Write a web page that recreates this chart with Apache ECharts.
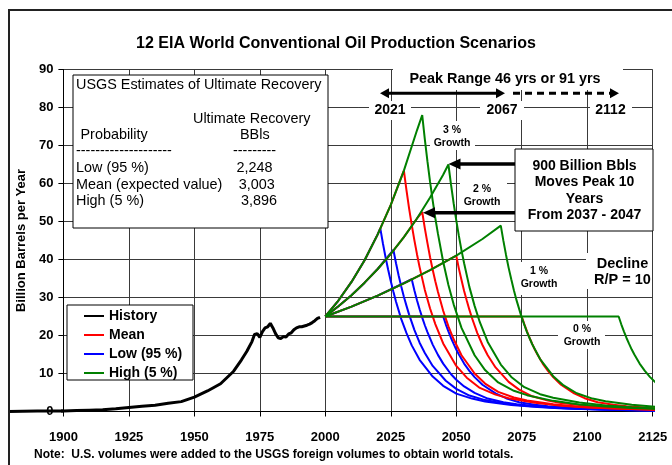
<!DOCTYPE html>
<html><head><meta charset="utf-8">
<script src="https://cdn.jsdelivr.net/npm/echarts@6/dist/echarts.min.js"></script>
<style>html,body{margin:0;padding:0;background:#fff}#c{width:672px;height:465px}</style>
</head><body><div id="c"></div>
<script>
// ---------- DATA ----------
const xTicks = [1900, 1925, 1950, 1975, 2000, 2025, 2050, 2075, 2100, 2125];
const yTicks = [0, 10, 20, 30, 40, 50, 60, 70, 80, 90];

const history = [[1879,0],[1890,0.1],[1900,0.15],[1905,0.25],[1910,0.35],[1915,0.45],[1920,0.7],[1925,1.05],[1930,1.4],[1935,1.65],[1940,2.15],[1945,2.6],[1950,3.8],[1955,5.4],[1960,7.3],[1965,10.6],[1968,13.6],[1970,15.8],[1972,18.4],[1973,20.3],[1974,20.5],[1975,19.5],[1976,21.0],[1977,22.0],[1978,22.3],[1979,23.2],[1980,22.0],[1981,20.5],[1982,19.4],[1983,19.2],[1984,19.7],[1985,19.6],[1986,20.4],[1987,20.7],[1988,21.5],[1989,22.0],[1990,22.3],[1991,22.3],[1992,22.5],[1993,22.7],[1994,23.0],[1995,23.4],[1996,23.9],[1997,24.5],[1998,24.8]];

// Low (95 %) URR 2,248
const low0 = [[2000,25],[2045,25],[2046,22.95],[2047,21.1],[2048,19.35],[2049,17.8],[2050,16.3],[2051,15.0],[2053,12.6],[2055,10.7],[2057,9.05],[2060,7.05],[2065,4.75],[2069,3.5],[2074,2.45],[2080,1.75],[2085,1.38],[2095,0.9],[2105,0.6],[2115,0.43],[2125,0.3],[2145,0.15]];
const low1 = [[2000,25],[2010,27.6],[2020,30.5],[2033,34.8],[2034,31.9],[2035,29.3],[2036,26.9],[2037,24.7],[2038,22.7],[2039,20.9],[2041,17.6],[2043,14.9],[2045,12.6],[2048,9.8],[2050,8.35],[2053,6.6],[2057,4.9],[2062,3.4],[2068,2.45],[2073,1.9],[2083,1.25],[2093,0.84],[2103,0.6],[2113,0.42],[2133,0.21]];
const low2 = [[2000,25],[2005,27.7],[2010,30.6],[2015,33.9],[2020,37.5],[2026,42.5],[2027,39.0],[2028,35.8],[2029,32.9],[2030,30.2],[2031,27.8],[2032,25.5],[2034,21.5],[2036,18.1],[2038,15.4],[2041,12.0],[2046,8.1],[2050,5.95],[2055,4.2],[2061,3.0],[2066,2.35],[2076,1.53],[2086,1.02],[2096,0.72],[2106,0.51],[2126,0.26],[2146,0.13]];
const low3 = [[2000,25],[2005,29.2],[2010,34.1],[2015,39.8],[2020,46.6],[2021,48.2],[2022,44.2],[2023,40.6],[2024,37.3],[2025,34.3],[2026,31.5],[2027,28.9],[2029,24.3],[2031,20.6],[2033,17.4],[2036,13.6],[2041,9.2],[2045,6.75],[2050,4.7],[2056,3.4],[2061,2.65],[2071,1.74],[2081,1.16],[2091,0.82],[2101,0.58],[2121,0.29],[2141,0.15]];

// Mean URR 3,003
const mean0 = [[2000,25],[2075,25],[2076,22.95],[2077,21.1],[2078,19.35],[2079,17.8],[2080,16.3],[2081,15.0],[2083,12.6],[2085,10.7],[2087,9.05],[2090,7.05],[2095,4.75],[2099,3.5],[2104,2.45],[2110,1.75],[2115,1.38],[2125,0.9],[2135,0.6],[2145,0.43]];
const mean1 = [[2000,25],[2010,27.6],[2020,30.5],[2030,33.7],[2040,37.2],[2050,41.0],[2051,37.6],[2052,34.6],[2053,31.7],[2054,29.2],[2055,26.8],[2056,24.6],[2058,20.7],[2060,17.5],[2062,14.8],[2065,11.6],[2070,7.8],[2074,5.75],[2079,4.0],[2085,2.87],[2090,2.26],[2100,1.48],[2110,0.98],[2120,0.7],[2130,0.49],[2150,0.25]];
const mean2 = [[2000,25],[2005,27.7],[2010,30.6],[2015,33.9],[2020,37.5],[2025,41.5],[2030,45.9],[2035,50.8],[2037,52.5],[2038,48.2],[2039,44.3],[2040,40.6],[2041,37.3],[2042,34.3],[2043,31.5],[2045,26.5],[2047,22.4],[2049,19.0],[2052,14.8],[2057,10.0],[2061,7.35],[2066,5.15],[2072,3.7],[2077,2.9],[2087,1.9],[2097,1.26],[2107,0.9],[2117,0.63],[2137,0.32]];
const mean3 = [[2000,25],[2005,29.2],[2010,34.1],[2015,39.8],[2020,46.6],[2025,54.4],[2030,63.4],[2031,58.2],[2032,53.4],[2033,49.1],[2034,45.1],[2035,41.4],[2036,38.0],[2038,32.0],[2040,27.1],[2042,23.0],[2045,17.9],[2050,12.0],[2054,8.9],[2059,6.2],[2065,4.45],[2070,3.5],[2080,2.3],[2090,1.52],[2100,1.08],[2110,0.76],[2130,0.38],[2150,0.2]];

// High (5 %) URR 3,896
const high0 = [[2000,25],[2112,25],[2113,22.95],[2114,21.1],[2115,19.35],[2116,17.8],[2117,16.3],[2118,15.0],[2120,12.6],[2122,10.7],[2124,9.05],[2127,7.05],[2132,4.75],[2136,3.5]];
const high1 = [[2000,25],[2010,27.6],[2020,30.5],[2030,33.7],[2040,37.2],[2050,41.0],[2060,45.4],[2067,48.9],[2068,44.9],[2069,41.2],[2070,37.8],[2071,34.8],[2072,31.9],[2073,29.3],[2075,24.7],[2077,20.9],[2079,17.7],[2082,13.8],[2087,9.3],[2091,6.85],[2096,4.8],[2102,3.4],[2107,2.7],[2117,1.76],[2127,1.17],[2137,0.83]];
const high2 = [[2000,25],[2005,27.7],[2010,30.6],[2015,33.9],[2020,37.5],[2025,41.5],[2030,45.9],[2035,50.8],[2040,56.3],[2045,62.3],[2047,65.0],[2048,59.7],[2049,54.8],[2050,50.3],[2051,46.2],[2052,42.4],[2053,39.0],[2055,32.8],[2057,27.8],[2059,23.5],[2062,18.3],[2067,12.35],[2071,9.1],[2076,6.4],[2082,4.55],[2087,3.6],[2097,2.35],[2107,1.56],[2117,1.1],[2127,0.78],[2147,0.39]];
const high3 = [[2000,25],[2005,29.2],[2010,34.1],[2015,39.8],[2020,46.6],[2025,54.4],[2030,63.4],[2035,74.0],[2037,78.0],[2038,71.6],[2039,65.8],[2040,60.4],[2041,55.5],[2042,50.9],[2043,46.8],[2045,39.4],[2047,33.3],[2049,28.2],[2052,22.0],[2057,14.8],[2061,10.9],[2066,7.65],[2072,5.45],[2077,4.3],[2087,2.8],[2097,1.87],[2107,1.33],[2117,0.94],[2137,0.47]];

const legendNames = ['History', 'Mean', 'Low (95 %)', 'High (5 %)'];
const colors = {History:'#000000', Mean:'#FF0000', 'Low (95 %)':'#0000FF', 'High (5 %)':'#008000'};

const usgsRows = [['Low (95 %)','2,248'],['Mean (expected value)','3,003'],['High (5 %)','3,896']];

// ---------- CHART ----------
const FONT = "'Liberation Sans', Arial, Helvetica, sans-serif";
const chart = echarts.init(document.getElementById('c'), null, {renderer:'canvas'});

function sc(name, data, width) {
  return {name, type:'line', data, symbol:'none', clip:false, smooth:false,
    lineStyle:{color:colors[name], width:width}, itemStyle:{color:colors[name]},
    emphasis:{disabled:true}, silent:true, animation:false};
}

const series = [
  sc('History', history, 3),
  sc('Low (95 %)', low0, 2), sc('Low (95 %)', low1, 2), sc('Low (95 %)', low2, 2), sc('Low (95 %)', low3, 2),
  sc('Mean', mean0, 2), sc('Mean', mean1, 2), sc('Mean', mean2, 2), sc('Mean', mean3, 2),
  sc('High (5 %)', high0, 2), sc('High (5 %)', high1, 2), sc('High (5 %)', high2, 2), sc('High (5 %)', high3, 2)
];

function txt(x, y, text, o) {
  o = o || {};
  return {type:'text', z:100, x, y, style:{text, fill:'#000', font:(o.bold?'bold ':'')+(o.size||13)+'px '+FONT,
    textAlign:o.align||'left', textVerticalAlign:'middle'}};
}
function box(x, y, w, h, stroke, z) {
  return {type:'rect', z:(z==null?99:z), shape:{x, y, width:w, height:h},
    style:{fill:'#fff', stroke:stroke?'#000':null, lineWidth:stroke?1:0}};
}
function hArrow(x1, x2, y, w, headL, headW, dashed, both) {
  const dir = x2 > x1 ? 1 : -1;
  const els = [{type:'line', z:101, shape:{x1: both ? x1 + dir*headL*0.6 : x1, y1:y, x2:x2 - dir*headL*0.6, y2:y},
    style:{stroke:'#000', lineWidth:w, lineDash: dashed ? [7,5] : null}}];
  els.push({type:'polygon', z:101, shape:{points:[[x2,y],[x2-dir*headL,y-headW],[x2-dir*headL,y+headW]]}, style:{fill:'#000'}});
  if (both) els.push({type:'polygon', z:101, shape:{points:[[x1,y],[x1+dir*headL,y-headW],[x1+dir*headL,y+headW]]}, style:{fill:'#000'}});
  return els;
}

const graphics = [];
graphics.push({type:'rect', z:100, shape:{x:9, y:10, width:700, height:500}, style:{fill:'none', stroke:'#222', lineWidth:2}});
// USGS box
const US = 14.4;
graphics.push(box(73, 75, 255, 153, true));
graphics.push(txt(76, 85, 'USGS Estimates of Ultimate Recovery', {size:US}));
graphics.push(txt(193, 119, 'Ultimate Recovery', {size:US}));
graphics.push(txt(80.5, 135, 'Probability', {size:US}));
graphics.push(txt(240, 135, 'BBls', {size:US}));
graphics.push(txt(76, 151, '--------------------', {size:US}));
graphics.push(txt(233, 151, '---------', {size:US}));
usgsRows.forEach((r, i) => {
  graphics.push(txt(76, 168 + i*16.7, r[0], {size:US}));
  graphics.push(txt(236.5 + i*2.2, 168 + i*16.7, r[1], {size:US}));
});
// legend box (below legend component)
graphics.push(box(67, 305, 126, 75, true, 1));
// Peak range
graphics.push(box(393, 66, 230, 24, false));
graphics.push(txt(505, 79, 'Peak Range 46 yrs or 91 yrs', {bold:true, size:14.4, align:'center'}));
hArrow(505, 380, 93.3, 3, 9, 5, false, true).forEach(e => graphics.push(e));
hArrow(513, 619, 93.3, 3, 9, 5, true, false).forEach(e => graphics.push(e));
graphics.push(box(369, 101, 42, 19, false));
graphics.push(txt(390, 110, '2021', {bold:true, size:14, align:'center'}));
graphics.push(box(480, 101, 44, 19, false));
graphics.push(txt(502, 110, '2067', {bold:true, size:14, align:'center'}));
graphics.push(box(590, 101, 42, 19, false));
graphics.push(txt(610.5, 110, '2112', {bold:true, size:14, align:'center'}));
// growth labels
[[452, 130, '3 %', 430, 121, 45, 29], [482, 189, '2 %', 460, 179, 47, 32], [539, 271.5, '1 %', 518, 262, 47, 33], [582, 329.5, '0 %', 558, 321, 47, 28]].forEach(g => {
  graphics.push(box(g[3], g[4], g[5], g[6], false));
  graphics.push(txt(g[0], g[1], g[2], {bold:true, size:10.5, align:'center'}));
  graphics.push(txt(g[0], g[1] + 13, 'Growth', {bold:true, size:10.5, align:'center'}));
});
// Decline box
graphics.push(box(586, 253, 66, 36, false));
graphics.push(txt(622.5, 263.5, 'Decline', {bold:true, size:14.5, align:'center'}));
graphics.push(txt(622.5, 280, 'R/P = 10', {bold:true, size:14.5, align:'center'}));
// 900 Billion box
graphics.push(box(515, 149, 138, 82, true));
['900 Billion Bbls', 'Moves Peak 10', 'Years', 'From 2037 - 2047'].forEach((t, i) => {
  graphics.push(txt(584.5, 166 + i*16.4, t, {bold:true, size:14, align:'center'}));
});
hArrow(515, 448.5, 164, 3.5, 12, 5.5, false, false).forEach(e => graphics.push(e));
hArrow(515, 423, 212.7, 3.5, 12, 5.5, false, false).forEach(e => graphics.push(e));
// note
graphics.push(txt(34, 455, 'Note:  U.S. volumes were added to the USGS foreign volumes to obtain world totals.', {bold:true, size:12}));

const option = {
  backgroundColor:'#fff',
  animation:false,
  title:{text:'12 EIA World Conventional Oil Production Scenarios', left:'center', top:36, padding:0,
    textStyle:{fontSize:16, fontWeight:'bold', fontFamily:FONT, color:'#000'}},
  grid:{left:63.4, right:19.3, top:69.5, bottom:53.5, containLabel:false},
  legend:{data:legendNames, orient:'vertical', left:83, top:308, padding:0, itemWidth:20, itemHeight:16, itemGap:3,
    z:10, itemStyle:{opacity:0}, selectedMode:false,
    textStyle:{fontSize:14, fontWeight:'bold', fontFamily:FONT, color:'#000', lineHeight:16}},
  xAxis:{type:'value', min:xTicks[0], max:xTicks[xTicks.length-1], interval:25,
    axisLine:{lineStyle:{color:'#000', width:1}}, axisTick:{show:true, length:5, lineStyle:{color:'#000'}},
    axisLabel:{margin:19, fontSize:13, fontWeight:'bold', fontFamily:FONT, color:'#000', formatter:v=>String(v)},
    splitLine:{show:true, lineStyle:{color:'#3a3a3a', width:1}}},
  yAxis:{type:'value', min:yTicks[0], max:yTicks[yTicks.length-1], interval:10,
    name:'Billion Barrels per Year', nameLocation:'middle', nameGap:27,
    nameTextStyle:{fontSize:13, fontWeight:'bold', fontFamily:FONT, color:'#000'},
    axisLine:{show:true, lineStyle:{color:'#000', width:1}}, axisTick:{show:true, length:5, lineStyle:{color:'#000'}},
    axisLabel:{margin:10, fontSize:13, fontWeight:'bold', fontFamily:FONT, color:'#000'},
    splitLine:{show:true, lineStyle:{color:'#3a3a3a', width:1}}},
  series,
  graphic:graphics
};
chart.setOption(option);

// history points that lie left of the axis minimum (drawn through the library's scale)
const leftPts = history.filter(p => p[0] <= xTicks[0]).map(p => chart.convertToPixel({gridIndex:0}, p));
if (leftPts.length > 1) {
  graphics.push({type:'polyline', z:50, shape:{points:leftPts}, style:{stroke:'#000', lineWidth:3, fill:null}});
  chart.setOption({graphic:graphics});
}
</script></body></html>
